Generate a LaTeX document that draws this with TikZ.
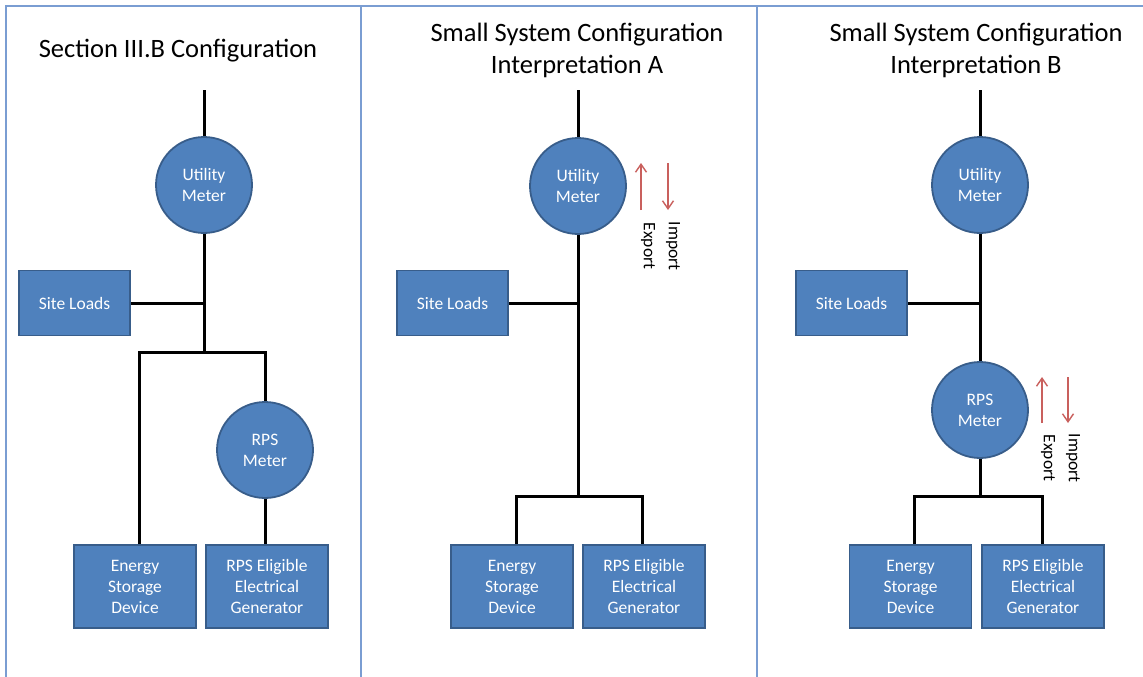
\documentclass[tikz,border=0pt]{standalone}
\usepackage{fontspec}
\setmainfont{Carlito}
\usetikzlibrary{arrows.meta}
\definecolor{boxfill}{HTML}{4F81BD}
\definecolor{boxborder}{HTML}{385D8A}
\definecolor{arrowred}{HTML}{C9605D}
\definecolor{framecol}{HTML}{7A9DD2}
\begin{document}
\begin{tikzpicture}[x=1pt,y=-1pt,
  txt/.style={font=\fontsize{17.5}{21}\selectfont},
  box/.style={txt, draw=boxborder, line width=1.8pt, fill=boxfill, text=white, align=center, inner sep=0pt},
  sitebox/.style={box, minimum width=111pt, minimum height=65pt},
  devbox/.style={box, minimum width=122pt, minimum height=83pt},
  meter/.style={txt, circle, draw=boxborder, line width=1.8pt, fill=boxfill, text=white, minimum size=96pt, inner sep=0pt, align=center},
  wire/.style={line width=3pt, black},
  flow/.style={-{Straight Barb[length=8pt,width=11pt]}, line width=1.4pt, arrowred},
  frame/.style={line width=2pt, framecol},
  title/.style={font=\fontsize{26.5}{32}\selectfont, align=center},
  lbl/.style={txt, rotate=-90, inner sep=0pt}]
\useasboundingbox (0,0) rectangle (1143,677);
\fill[white] (0,0) rectangle (1143,677);
% frame
\draw[frame] (6,677) -- (6,6) -- (1143,6);
\draw[frame] (361,6) -- (361,677);
\draw[frame] (757,6) -- (757,677);

% ---------- Panel 1 ----------
\node[title] (t1) at (178,51) {Section III.B Configuration};
\coordinate (top1) at (204,90);
\node[meter] (um1) at (204,185) {Utility\\Meter};
\node[sitebox] (sl1) at (74.5,303) {Site Loads};
\coordinate (j1) at (204,303);
\coordinate (b1) at (204,352);
\coordinate (bl1) at (139,352);
\coordinate (br1) at (265,352);
\node[meter] (rps1) at (265,450) {RPS\\Meter};
\node[devbox] (es1) at (135,586.5) {Energy\\Storage\\Device};
\node[devbox] (gen1) at (267,586.5) {RPS Eligible\\Electrical\\Generator};
\draw[wire] (top1) -- (um1.north);
\draw[wire] (um1.south) -- (b1);
\draw[wire] (sl1.east) -- (j1);
\draw[wire] (bl1 |- es1.north) -- (bl1) -- (br1) -- (rps1.north);
\draw[wire] (rps1.south) -- (rps1.south |- gen1.north);

% ---------- Panel 2 ----------
\node[title] (t2) at (577,50) {Small System Configuration\\Interpretation A};
\coordinate (top2) at (578,90);
\node[meter] (um2) at (578,186) {Utility\\Meter};
\node[sitebox] (sl2) at (452.5,303) {Site Loads};
\coordinate (j2) at (578,303);
\coordinate (b2) at (578,496);
\coordinate (bl2) at (516,496);
\coordinate (br2) at (642,496);
\node[devbox] (es2) at (512,586.5) {Energy\\Storage\\Device};
\node[devbox] (gen2) at (644,586.5) {RPS Eligible\\Electrical\\Generator};
\draw[wire] (top2) -- (um2.north);
\draw[wire] (um2.south) -- (b2);
\draw[wire] (sl2.east) -- (j2);
\draw[wire] (bl2 |- es2.north) -- (bl2) -- (br2) -- (br2 |- gen2.north);
\coordinate (ea2) at (641,210);
\coordinate (eb2) at (641,163);
\coordinate (ia2) at (668,163);
\coordinate (ib2) at (668,210);
\draw[flow] (ea2) -- (eb2);
\draw[flow] (ia2) -- (ib2);
\node[lbl] (ex2) at (648,246) {Export};
\node[lbl] (im2) at (673,246) {Import};

% ---------- Panel 3 ----------
\node[title] (t3) at (976,50) {Small System Configuration\\Interpretation B};
\coordinate (top3) at (980,90);
\node[meter] (um3) at (980,185) {Utility\\Meter};
\node[sitebox] (sl3) at (851.5,303) {Site Loads};
\coordinate (j3) at (980,303);
\node[meter] (rps3) at (980,410) {RPS\\Meter};
\coordinate (b3) at (980,496);
\coordinate (bl3) at (914,496);
\coordinate (br3) at (1042,496);
\node[devbox] (es3) at (910.5,586.5) {Energy\\Storage\\Device};
\node[devbox] (gen3) at (1043,586.5) {RPS Eligible\\Electrical\\Generator};
\draw[wire] (top3) -- (um3.north);
\draw[wire] (um3.south) -- (rps3.north);
\draw[wire] (sl3.east) -- (j3);
\draw[wire] (rps3.south) -- (b3);
\draw[wire] (bl3 |- es3.north) -- (bl3) -- (br3) -- (br3 |- gen3.north);
\coordinate (ea3) at (1042,423);
\coordinate (eb3) at (1042,377);
\coordinate (ia3) at (1068,377);
\coordinate (ib3) at (1068,423);
\draw[flow] (ea3) -- (eb3);
\draw[flow] (ia3) -- (ib3);
\node[lbl] (ex3) at (1048,458) {Export};
\node[lbl] (im3) at (1073,458) {Import};
\end{tikzpicture}
\end{document}
